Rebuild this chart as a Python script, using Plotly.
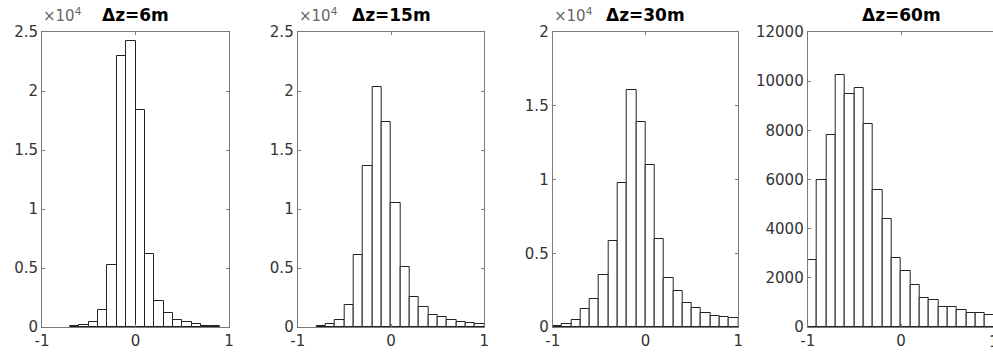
import numpy as np
import plotly.graph_objects as go

# ---- data ----
titles = ["\u0394z=6m", "\u0394z=15m", "\u0394z=30m", "\u0394z=60m"]
bin_width = 0.1

centers_6 = [-0.65, -0.55, -0.45, -0.35, -0.25, -0.15, -0.05, 0.05, 0.15, 0.25,
             0.35, 0.45, 0.55, 0.65, 0.75, 0.85]
counts_6 = [90, 170, 400, 1470, 5270, 23000, 24250, 18430, 6200, 2180,
            1220, 570, 400, 255, 90, 90]

centers_15 = [-0.75, -0.65, -0.55, -0.45, -0.35, -0.25, -0.15, -0.05, 0.05, 0.15,
              0.25, 0.35, 0.45, 0.55, 0.65, 0.75, 0.85, 0.95]
counts_15 = [85, 255, 570, 1900, 6140, 13670, 20360, 17360, 10500, 5120,
             2580, 1670, 1050, 820, 620, 400, 340, 255]

centers_30 = [-0.95, -0.85, -0.75, -0.65, -0.55, -0.45, -0.35, -0.25, -0.15, -0.05,
              0.05, 0.15, 0.25, 0.35, 0.45, 0.55, 0.65, 0.75, 0.85, 0.95]
counts_30 = [70, 180, 470, 1190, 1870, 3510, 5830, 9750, 16060, 13900,
             10990, 5990, 3310, 2450, 1600, 1280, 920, 720, 680, 590]

centers_60 = [-0.95, -0.85, -0.75, -0.65, -0.55, -0.45, -0.35, -0.25, -0.15, -0.05,
              0.05, 0.15, 0.25, 0.35, 0.45, 0.55, 0.65, 0.75, 0.85, 0.95]
counts_60 = [2740, 5990, 7820, 10260, 9470, 9740, 8260, 5590, 4390, 2820,
             2260, 1720, 1200, 1110, 810, 810, 690, 550, 590, 490]

y_tickvals_e4 = [0, 5000, 10000, 15000, 20000, 25000]
y_ticktext_e4 = ["0", "0.5", "1", "1.5", "2", "2.5"]
y_tickvals_60 = [0, 2000, 4000, 6000, 8000, 10000, 12000]
y_ticktext_60 = ["0", "2000", "4000", "6000", "8000", "10000", "12000"]
x_tickvals = [-1, 0, 1]
x_ticktext = ["-1", "0", "1"]

# ---- layout geometry ----
W, H = 993, 354
x_px = [(42, 229), (297.7, 484.3), (552.7, 738.3), (807.7, 994.3)]
y_px = (32, 327)

def px_x(p):
    return p / W

def px_y(p):
    return 1 - p / H

AXIS_COLOR = "#7a7a7a"
TEXT_COLOR = "#333333"
FONT = "DejaVu Sans"

fig = go.Figure()

series = [(centers_6, counts_6), (centers_15, counts_15),
          (centers_30, counts_30), (centers_60, counts_60)]
y_ranges = [[0, 25000], [0, 25000], [0, 20000], [0, 12000]]
y_ticks = [(y_tickvals_e4, y_ticktext_e4), (y_tickvals_e4, y_ticktext_e4),
           (y_tickvals_e4[:5], y_ticktext_e4[:5]), (y_tickvals_60, y_ticktext_60)]

for i, (cx, cy) in enumerate(series):
    n = "" if i == 0 else str(i + 1)
    fig.add_trace(go.Bar(
        x=cx, y=cy, width=bin_width,
        marker=dict(color="white", line=dict(color="#222222", width=1)),
        xaxis="x" + n, yaxis="y" + n, showlegend=False,
    ))
    x0, x1 = x_px[i]
    xr_end = 1.0
    dom_end = px_x(x1)
    if dom_end > 1:
        # axis box extends past the window edge
        xr_end = -1 + 2 * (W - x0) / (x1 - x0)
        dom_end = 1.0
    xa = dict(
        domain=[px_x(x0), dom_end], range=[-1, xr_end],
        tickvals=x_tickvals, ticktext=x_ticktext,
        ticks="inside", ticklen=3, tickcolor=AXIS_COLOR,
        showline=True, linecolor=AXIS_COLOR, linewidth=1,
        mirror="allticks", showgrid=False, zeroline=False,
        anchor="y" + n, tickfont=dict(family=FONT, size=15, color=TEXT_COLOR),
        fixedrange=True, automargin=False,
    )
    ya = dict(
        domain=[px_y(y_px[1]), px_y(y_px[0])], range=y_ranges[i],
        tickvals=y_ticks[i][0], ticktext=y_ticks[i][1],
        ticks="inside", ticklen=3, tickcolor=AXIS_COLOR,
        showline=True, linecolor=AXIS_COLOR, linewidth=1,
        mirror="allticks" if i < 3 else False,
        showgrid=False, zeroline=False,
        anchor="x" + n, tickfont=dict(family=FONT, size=15, color=TEXT_COLOR),
        fixedrange=True, automargin=False,
    )
    fig.update_layout(**{"xaxis" + n: xa, "yaxis" + n: ya})

    # title
    fig.add_annotation(
        x=px_x((x0 + x1) / 2), y=px_y(27), xref="paper", yref="paper",
        text="<b>" + titles[i] + "</b>", showarrow=False,
        xanchor="center", yanchor="bottom",
        font=dict(family=FONT, size=17, color="black"),
    )
    # exponent label
    if i < 3:
        fig.add_annotation(
            x=px_x(x0 - 1), y=px_y(27), xref="paper", yref="paper",
            text="\u00d710<sup>4</sup>", showarrow=False,
            xanchor="left", yanchor="bottom",
            font=dict(family=FONT, size=15, color="#666666"),
        )

# partially visible "1" tick label of the last panel (beyond the window edge)
fig.add_annotation(
    x=px_x(x_px[3][1]), y=px_y(331), xref="paper", yref="paper",
    text="1", showarrow=False, xanchor="center", yanchor="top",
    font=dict(family=FONT, size=15, color=TEXT_COLOR),
)

fig.update_layout(
    width=W, height=H,
    margin=dict(l=0, r=0, t=0, b=0),
    paper_bgcolor="white", plot_bgcolor="white",
    bargap=0,
)

fig.write_html("out.html")
